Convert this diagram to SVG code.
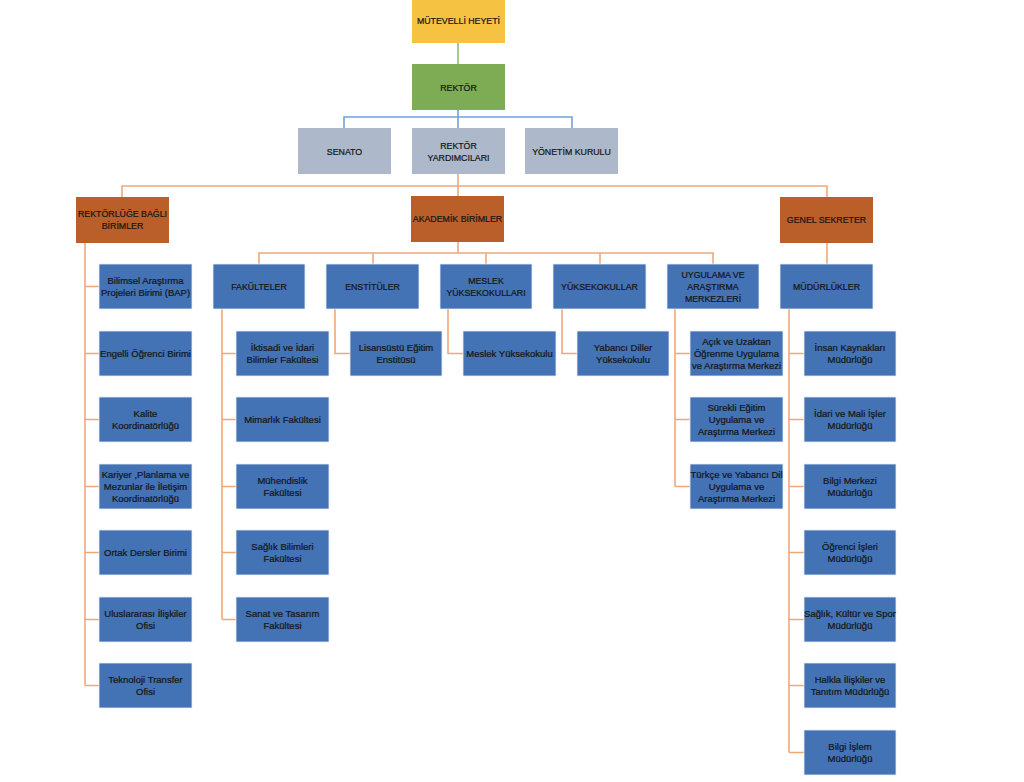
<svg xmlns="http://www.w3.org/2000/svg" width="1024" height="782" viewBox="0 0 1024 782">
<style>
text{font-family:"Liberation Sans",Arial,sans-serif;font-size:9.5px;fill:#161616;text-anchor:middle;stroke:#161616;stroke-width:0.22}
text.u{font-size:8.8px}
.y{fill:#F5C242}
.g{fill:#7DAC55}
.s{fill:#ADB9CA}
.o{fill:#BA5F29}
.b{fill:#4372B5}
.bx{stroke:#e8eef6;stroke-width:0.8}
.co{fill:none;stroke:#F0A877;stroke-width:1.6}
.cb{fill:none;stroke:#6FA2DE;stroke-width:1.6}
.cg{fill:none;stroke:#8DC066;stroke-width:1.6}
</style>
<rect width="1024" height="782" fill="#fff"/>
<g id="connectors">
<path class="cg" d="M458 43V64"/>
<path class="cb" d="M458 110V117M344 128V117H572V128M458 117V128"/>
<path class="co" d="M458 174V186M122 197V186H827V197M458 186V196"/>
<path class="co" d="M458 242V253M259 264V253H713V264M373 253V264M486 253V264M600 253V264"/>
<path class="co" d="M827 243V264"/>
<path class="co" d="M85 243V685.5M85 286.5H99M85 353.5H99M85 419.5H99M85 486.5H99M85 552.5H99M85 619.5H99M85 685.5H99"/>
<path class="co" d="M222 309V619.5M222 353.5H236M222 419.5H236M222 486.5H236M222 552.5H236M222 619.5H236"/>
<path class="co" d="M335 309V353.5H350"/>
<path class="co" d="M448 309V353.5H463"/>
<path class="co" d="M562 309V353.5H577"/>
<path class="co" d="M675 309V486.5M675 353.5H690M675 419.5H690M675 486.5H690"/>
<path class="co" d="M789 309V752.5M789 353.5H804M789 419.5H804M789 486.5H804M789 552.5H804M789 619.5H804M789 685.5H804M789 752.5H804"/>
</g>
<g id="mutevelli"><rect class="y" x="412" y="0" width="93" height="43"/><text class="u" x="458.5" y="24">MÜTEVELLİ HEYETİ</text></g>
<g id="rektor"><rect class="g" x="412" y="64" width="93" height="46"/><text class="u" x="458.5" y="90.5">REKTÖR</text></g>
<g id="senato"><rect class="s" x="298" y="128" width="93" height="46"/><text class="u" x="344.5" y="154.5">SENATO</text></g>
<g id="rektor-yard"><rect class="s" x="412" y="128" width="93" height="46"/><text class="u" x="458.5" y="148.5">REKTÖR</text><text class="u" x="458.5" y="160.5">YARDIMCILARI</text></g>
<g id="yonetim"><rect class="s" x="525" y="128" width="93" height="46"/><text class="u" x="571.5" y="154.5">YÖNETİM KURULU</text></g>
<g id="rektorluge"><rect class="o" x="76" y="197" width="93" height="46"/><text class="u" x="122.5" y="216.5">REKTÖRLÜĞE BAĞLI</text><text class="u" x="122.5" y="228.5">BİRİMLER</text></g>
<g id="akademik"><rect class="o" x="411" y="196" width="93" height="46"/><text class="u" x="457.5" y="222">AKADEMİK BİRİMLER</text></g>
<g id="genel"><rect class="o" x="780" y="197" width="93" height="46"/><text class="u" x="826.5" y="222.5">GENEL SEKRETER</text></g>
<g id="fakulteler"><rect class="b bx" x="213" y="264" width="92" height="45"/><text class="u" x="259" y="290">FAKÜLTELER</text></g>
<g id="enstituler"><rect class="b bx" x="326" y="264" width="93" height="45"/><text class="u" x="372.5" y="290">ENSTİTÜLER</text></g>
<g id="meslek"><rect class="b bx" x="440" y="264" width="92" height="45"/><text class="u" x="486" y="284">MESLEK</text><text class="u" x="486" y="296">YÜKSEKOKULLARI</text></g>
<g id="yuksekokullar"><rect class="b bx" x="553" y="264" width="93" height="45"/><text class="u" x="599.5" y="290">YÜKSEKOKULLAR</text></g>
<g id="uygulama"><rect class="b bx" x="667" y="264" width="92" height="45"/><text class="u" x="713" y="278">UYGULAMA VE</text><text class="u" x="713" y="290">ARAŞTIRMA</text><text class="u" x="713" y="302">MERKEZLERİ</text></g>
<g id="mudurlukler"><rect class="b bx" x="780" y="264" width="93" height="45"/><text class="u" x="826.5" y="290">MÜDÜRLÜKLER</text></g>
<g id="bap"><rect class="b bx" x="99" y="264" width="93" height="45"/><text x="145.5" y="284">Bilimsel Araştırma</text><text x="145.5" y="296">Projeleri Birimi (BAP)</text></g>
<g id="engelli"><rect class="b bx" x="99" y="331" width="93" height="45"/><text x="145.5" y="357">Engelli Öğrenci Birimi</text></g>
<g id="kalite"><rect class="b bx" x="99" y="397" width="93" height="45"/><text x="145.5" y="417">Kalite</text><text x="145.5" y="429">Koordinatörlüğü</text></g>
<g id="kariyer"><rect class="b bx" x="99" y="464" width="93" height="45"/><text x="145.5" y="478">Kariyer ,Planlama ve</text><text x="145.5" y="490">Mezunlar ile İletişim</text><text x="145.5" y="502">Koordinatörlüğü</text></g>
<g id="ortak"><rect class="b bx" x="99" y="530" width="93" height="45"/><text x="145.5" y="556">Ortak Dersler Birimi</text></g>
<g id="uluslararasi"><rect class="b bx" x="99" y="597" width="93" height="45"/><text x="145.5" y="617">Uluslararası İlişkiler</text><text x="145.5" y="629">Ofisi</text></g>
<g id="teknoloji"><rect class="b bx" x="99" y="663" width="93" height="45"/><text x="145.5" y="683">Teknoloji Transfer</text><text x="145.5" y="695">Ofisi</text></g>
<g id="iibf"><rect class="b bx" x="236" y="331" width="93" height="45"/><text x="282.5" y="351">İktisadi ve İdari</text><text x="282.5" y="363">Bilimler Fakültesi</text></g>
<g id="mimarlik"><rect class="b bx" x="236" y="397" width="93" height="45"/><text x="282.5" y="423">Mimarlık Fakültesi</text></g>
<g id="muhendislik"><rect class="b bx" x="236" y="464" width="93" height="45"/><text x="282.5" y="484">Mühendislik</text><text x="282.5" y="496">Fakültesi</text></g>
<g id="saglik-fak"><rect class="b bx" x="236" y="530" width="93" height="45"/><text x="282.5" y="550">Sağlık Bilimleri</text><text x="282.5" y="562">Fakültesi</text></g>
<g id="sanat"><rect class="b bx" x="236" y="597" width="93" height="45"/><text x="282.5" y="617">Sanat ve Tasarım</text><text x="282.5" y="629">Fakültesi</text></g>
<g id="lisansustu"><rect class="b bx" x="350" y="331" width="92" height="45"/><text x="396" y="351">Lisansüstü Eğitim</text><text x="396" y="363">Enstitüsü</text></g>
<g id="meslek-yo"><rect class="b bx" x="463" y="331" width="93" height="45"/><text x="509.5" y="357">Meslek Yüksekokulu</text></g>
<g id="yabanci"><rect class="b bx" x="577" y="331" width="92" height="45"/><text x="623" y="351">Yabancı Diller</text><text x="623" y="363">Yüksekokulu</text></g>
<g id="acik"><rect class="b bx" x="690" y="331" width="93" height="45"/><text x="736.5" y="345">Açık ve Uzaktan</text><text x="736.5" y="357">Öğrenme Uygulama</text><text x="736.5" y="369">ve Araştırma Merkezi</text></g>
<g id="surekli"><rect class="b bx" x="690" y="397" width="93" height="45"/><text x="736.5" y="411">Sürekli Eğitim</text><text x="736.5" y="423">Uygulama ve</text><text x="736.5" y="435">Araştırma Merkezi</text></g>
<g id="turkce"><rect class="b bx" x="690" y="464" width="93" height="45"/><text x="736.5" y="478">Türkçe ve Yabancı Dil</text><text x="736.5" y="490">Uygulama ve</text><text x="736.5" y="502">Araştırma Merkezi</text></g>
<g id="insan"><rect class="b bx" x="804" y="331" width="92" height="45"/><text x="850" y="351">İnsan Kaynakları</text><text x="850" y="363">Müdürlüğü</text></g>
<g id="idari"><rect class="b bx" x="804" y="397" width="92" height="45"/><text x="850" y="417">İdari ve Mali İşler</text><text x="850" y="429">Müdürlüğü</text></g>
<g id="bilgi-merkezi"><rect class="b bx" x="804" y="464" width="92" height="45"/><text x="850" y="484">Bilgi Merkezi</text><text x="850" y="496">Müdürlüğü</text></g>
<g id="ogrenci"><rect class="b bx" x="804" y="530" width="92" height="45"/><text x="850" y="550">Öğrenci İşleri</text><text x="850" y="562">Müdürlüğü</text></g>
<g id="saglik-kultur"><rect class="b bx" x="804" y="597" width="92" height="45"/><text x="850" y="617">Sağlık, Kültür ve Spor</text><text x="850" y="629">Müdürlüğü</text></g>
<g id="halkla"><rect class="b bx" x="804" y="663" width="92" height="45"/><text x="850" y="683">Halkla İlişkiler ve</text><text x="850" y="695">Tanıtım Müdürlüğü</text></g>
<g id="bilgi-islem"><rect class="b bx" x="804" y="730" width="92" height="45"/><text x="850" y="750">Bilgi İşlem</text><text x="850" y="762">Müdürlüğü</text></g>
</svg>
